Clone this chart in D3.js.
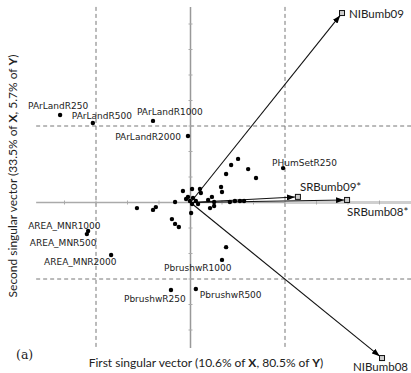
<!DOCTYPE html>
<html>
<head>
<meta charset="utf-8">
<script src="https://cdn.jsdelivr.net/npm/d3@7"></script>
<style>
  body { margin: 0; background: #fff; }
  svg { display: block; }
</style>
</head>
<body>
<div id="chart"></div>
<script>
// Predictor variables (labelled)
const labelNames = ["PArLandR250", "PArLandR500", "PArLandR1000", "PArLandR2000", "PHumSetR250",
    "AREA_MNR1000", "AREA_MNR500", "AREA_MNR2000", "PbrushwR250", "PbrushwR500", "PbrushwR1000"];
const labelX = [-4.14, -3.10, -1.19, -0.08, 2.94, -3.25, -3.29, -2.52, -0.62, 0.17, 1.00];
const labelY = [3.43, 3.12, 3.20, 2.61, 1.35, -1.12, -1.24, -2.06, -3.43, -3.39, -2.25];

// Other predictor variables (no label)
const pointX = [-0.24, 0.05, 0.30, 0.33, -0.08, 0.08, -0.02, 0.17, 0.24, 0.05, -0.14,
    0.56, 0.68, 0.75, 0.62, 0.75, 0.97, 1.00, 1.13, 1.29, 1.51, 1.83, 2.08,
    1.25, 1.41, 1.57, 1.70, -0.49, 0.02, -1.70, -1.19, -1.10, -0.59, -0.49, -0.37, 1.13];
const pointY = [0.45, 0.53, 0.53, 0.37, 0.22, 0.18, 0.06, 0.06, -0.06, -0.06, 0.14,
    0.10, 0.22, 0.02, -0.22, -0.14, 0.61, 0.41, 1.12, 1.47, 1.71, 1.31, 0.96,
    0.02, 0.06, 0.06, 0.06, 0.02, -0.41, -0.22, -0.29, -0.18, -0.65, -0.84, -0.96, -1.75];

// Response vectors
const responseNames = ["NIBumb09", "NIBumb08", "SRBumb09*", "SRBumb08*"];
const responseX = [4.81, 6.08, 3.41, 4.97];
const responseY = [7.43, -6.10, 0.22, 0.10];

// axis extents and tick values
const xExtent = [-4.9, 7.0];
const yExtent = [-5.71, 7.67];
const xTicks = [-4, -3, -2, -1, 1, 2, 3, 4, 5, 6];
const yTicks = [-5, -4, -3, -2, -1, 1, 2, 3, 4, 5, 6, 7];
const cutoffs = [-3, 3];

// label placement (dx, dy from point, anchor)
const labelPos = {
    "PArLandR250": [-32, -6.5, "start"],
    "PArLandR500": [-21, -3.5, "start"],
    "PArLandR1000": [-16, -5.5, "start"],
    "PArLandR2000": [-7, 4.5, "end"],
    "PHumSetR250": [-11, -2.5, "start"],
    "AREA_MNR1000": [-60, -2.5, "start"],
    "AREA_MNR500": [-57, 11.5, "start"],
    "AREA_MNR2000": [-67, 9.5, "start"],
    "PbrushwR250": [-47, 12.5, "start"],
    "PbrushwR500": [4, 9.5, "start"],
    "PbrushwR1000": [-58, 11.5, "start"]
};
const respPos = {
    "NIBumb09": [7, 5],
    "NIBumb08": [-29, 13],
    "SRBumb09*": [2, -6],
    "SRBumb08*": [0, 16]
};

const width = 411;
const height = 373;

const svg = d3.select("#chart")
    .append("svg")
    .attr("width", width)
    .attr("height", height);

// scales: origin at (190.5, 202.5)
const x = d3.scaleLinear().domain([-3, 3]).range([96, 285]);
const y = d3.scaleLinear().domain([-3, 3]).range([279, 126]);

// dashed cut-off lines
cutoffs.forEach(c => {
    svg.append("line")
        .attr("x1", x(c)).attr("x2", x(c))
        .attr("y1", y(yExtent[1])).attr("y2", y(yExtent[0]))
        .attr("stroke", "#777").attr("stroke-width", 1)
        .attr("stroke-dasharray", "4,3");
    svg.append("line")
        .attr("x1", x(xExtent[0])).attr("x2", x(xExtent[1]))
        .attr("y1", y(c)).attr("y2", y(c))
        .attr("stroke", "#777").attr("stroke-width", 1)
        .attr("stroke-dasharray", "4,3");
});

// axes through origin
svg.append("line")
    .attr("x1", x(xExtent[0])).attr("x2", x(xExtent[1]))
    .attr("y1", y(0)).attr("y2", y(0))
    .attr("stroke", "#aaa").attr("stroke-width", 1.5);
svg.append("line")
    .attr("x1", x(3)).attr("x2", x(xExtent[1]))
    .attr("y1", y(0)).attr("y2", y(0))
    .attr("stroke", "#cfcfcf").attr("stroke-width", 3);
svg.append("line")
    .attr("x1", x(0)).attr("x2", x(0))
    .attr("y1", y(yExtent[1])).attr("y2", y(yExtent[0]))
    .attr("stroke", "#999").attr("stroke-width", 1.5);

svg.append("g")
    .selectAll("line")
    .data(xTicks)
    .enter()
    .append("line")
    .attr("x1", d => x(d)).attr("x2", d => x(d))
    .attr("y1", y(0) - 2).attr("y2", y(0) + 2)
    .attr("stroke", "#aaa");
svg.append("g")
    .selectAll("line")
    .data(yTicks)
    .enter()
    .append("line")
    .attr("x1", x(0) - 2).attr("x2", x(0) + 2)
    .attr("y1", d => y(d)).attr("y2", d => y(d))
    .attr("stroke", "#aaa");

// arrow head marker
svg.append("defs").append("marker")
    .attr("id", "head")
    .attr("viewBox", "0 0 8 6")
    .attr("refX", 8).attr("refY", 3)
    .attr("markerWidth", 8).attr("markerHeight", 6)
    .attr("markerUnits", "userSpaceOnUse")
    .attr("orient", "auto")
    .append("path")
    .attr("d", "M0,0 L8,3 L0,6 z")
    .attr("fill", "#000");

const responses = responseNames.map((n, i) => ({ name: n, x: responseX[i], y: responseY[i] }));

// response vectors
responses.forEach(d => {
    const x1 = x(d.x), y1 = y(d.y), x0 = x(0), y0 = y(0);
    const len = Math.hypot(x1 - x0, y1 - y0);
    const k = (len - 3) / len;
    svg.append("line")
        .attr("x1", x0).attr("y1", y0)
        .attr("x2", x0 + (x1 - x0) * k).attr("y2", y0 + (y1 - y0) * k)
        .attr("stroke", "#111").attr("stroke-width", 1.1)
        .attr("marker-end", "url(#head)");
});

svg.append("g")
    .selectAll("rect")
    .data(responses)
    .enter()
    .append("rect")
    .attr("x", d => x(d.x) - 2.5)
    .attr("y", d => y(d.y) - 2.5)
    .attr("width", 5).attr("height", 5)
    .attr("fill", "#ccc").attr("stroke", "#111").attr("stroke-width", 1);

svg.append("g")
    .selectAll("text")
    .data(responses)
    .enter()
    .append("text")
    .attr("x", d => x(d.x) + respPos[d.name][0])
    .attr("y", d => y(d.y) + respPos[d.name][1])
    .style("font-family", "Lato, 'Open Sans', sans-serif")
    .style("font-size", "11.5px")
    .attr("fill", "#222")
    .text(d => d.name);

// predictor points
const points = pointX.map((v, i) => ({ x: v, y: pointY[i] }));
svg.append("g")
    .selectAll("circle")
    .data(points)
    .enter()
    .append("circle")
    .attr("cx", d => x(d.x))
    .attr("cy", d => y(d.y))
    .attr("r", 2.2)
    .attr("fill", "#000");

const labelled = labelNames.map((n, i) => ({ name: n, x: labelX[i], y: labelY[i] }));
svg.append("g")
    .selectAll("circle")
    .data(labelled)
    .enter()
    .append("circle")
    .attr("cx", d => x(d.x))
    .attr("cy", d => y(d.y))
    .attr("r", 2.2)
    .attr("fill", "#000");

svg.append("g")
    .selectAll("text")
    .data(labelled)
    .enter()
    .append("text")
    .attr("x", d => x(d.x) + labelPos[d.name][0])
    .attr("y", d => y(d.y) + labelPos[d.name][1])
    .attr("text-anchor", d => labelPos[d.name][2])
    .style("font-family", "'DejaVu Sans', Verdana, sans-serif")
    .style("font-size", "9px")
    .attr("fill", "#222")
    .text(d => d.name);

// axis titles
const xTitle = svg.append("text")
    .attr("x", 206)
    .attr("y", 367)
    .attr("text-anchor", "middle")
    .style("font-family", "Lato, 'Open Sans', sans-serif")
    .style("font-size", "12px")
    .attr("fill", "#222");
xTitle.append("tspan").text("First singular vector (10.6% of ");
xTitle.append("tspan").style("font-weight", "bold").text("X");
xTitle.append("tspan").text(", 80.5% of ");
xTitle.append("tspan").style("font-weight", "bold").text("Y");
xTitle.append("tspan").text(")");

const yTitle = svg.append("text")
    .attr("transform", "translate(17,176) rotate(-90)")
    .attr("text-anchor", "middle")
    .style("font-family", "Lato, 'Open Sans', sans-serif")
    .style("font-size", "12px")
    .attr("fill", "#222");
yTitle.append("tspan").text("Second singular vector (33.5% of ");
yTitle.append("tspan").style("font-weight", "bold").text("X");
yTitle.append("tspan").text(", 5.7% of ");
yTitle.append("tspan").style("font-weight", "bold").text("Y");
yTitle.append("tspan").text(")");

svg.append("text")
    .attr("x", 16)
    .attr("y", 359)
    .style("font-family", "'DejaVu Serif', 'Liberation Serif', serif")
    .style("font-size", "12.5px")
    .attr("fill", "#222")
    .text("(a)");
</script>
</body>
</html>
